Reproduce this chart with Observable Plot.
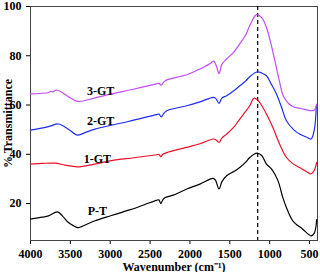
<!DOCTYPE html>
<html>
<head>
<meta charset="utf-8">
<script src="https://cdn.jsdelivr.net/npm/d3@7"></script>
<script src="https://cdn.jsdelivr.net/npm/@observablehq/plot@0.6"></script>
<style>
  html, body { margin: 0; padding: 0; background: #fff; }
  #chart { width: 320px; height: 272px; }
</style>
</head>
<body>
<div id="chart"></div>
<script>
// P-T (black)
const ptWave = [4000, 3850, 3775, 3660, 3600, 3525, 3450, 3410, 3300, 3190, 3050, 2925, 2800, 2690, 2550, 2420, 2390, 2365, 2340, 2315, 2210, 2040, 1875, 1710, 1680, 1635, 1600, 1540, 1450, 1375, 1300, 1250, 1160, 1100, 1040, 975, 895, 835, 790, 710, 585, 480, 440, 410];
const ptT    = [13.7, 14.5, 15.0, 16.6, 15.0, 12.3, 10.8, 10.2, 11.5, 13.0, 14.5, 15.7, 17.0, 18.1, 19.8, 21.3, 21.5, 20.0, 21.5, 22.4, 23.4, 25.9, 27.9, 30.2, 29.5, 25.9, 28.8, 31.3, 33.0, 34.6, 36.8, 38.7, 40.5, 39.5, 36.0, 34.0, 29.2, 22.4, 18.4, 13.0, 9.6, 6.9, 8.0, 13.5];
// 1-GT (red)
const gt1Wave = [4000, 3850, 3690, 3565, 3410, 3200, 2985, 2700, 2420, 2390, 2365, 2340, 2290, 2040, 1875, 1710, 1680, 1635, 1600, 1540, 1450, 1375, 1300, 1250, 1195, 1150, 1085, 1020, 960, 880, 790, 700, 625, 540, 480, 440, 410];
const gt1T    = [36.0, 36.3, 36.4, 35.6, 34.9, 36.0, 37.4, 38.6, 39.8, 40.0, 39.0, 40.0, 40.7, 42.8, 44.3, 46.2, 46.0, 44.8, 46.6, 48.2, 51.0, 54.3, 57.5, 59.7, 62.8, 62.0, 59.0, 55.0, 50.9, 44.5, 38.7, 36.0, 34.6, 33.0, 32.0, 33.5, 36.7];
// 2-GT (blue)
const gt2Wave = [4000, 3775, 3650, 3525, 3410, 3300, 3190, 2985, 2775, 2420, 2390, 2360, 2330, 2290, 2040, 1875, 1710, 1680, 1635, 1600, 1540, 1450, 1375, 1300, 1250, 1155, 1100, 1040, 980, 915, 850, 790, 700, 625, 540, 480, 440, 415];
const gt2T    = [49.8, 51.2, 52.3, 50.2, 47.8, 49.0, 50.2, 51.8, 53.3, 56.1, 56.3, 55.2, 56.5, 57.7, 59.7, 61.3, 63.1, 62.8, 60.7, 62.8, 63.8, 65.8, 67.8, 69.8, 71.5, 73.5, 73.0, 71.9, 68.5, 64.5, 59.0, 53.6, 50.0, 48.2, 47.0, 46.2, 50.0, 59.5];
// 3-GT (magenta)
const gt3Wave = [4000, 3775, 3740, 3720, 3670, 3600, 3525, 3410, 3200, 2985, 2700, 2420, 2390, 2360, 2330, 2290, 2040, 1875, 1740, 1700, 1665, 1635, 1600, 1540, 1450, 1375, 1300, 1250, 1165, 1100, 1040, 985, 935, 880, 830, 760, 705, 600, 480, 440, 410];
const gt3T    = [64.5, 65.1, 65.6, 65.3, 66.1, 65.0, 63.4, 61.5, 62.8, 64.5, 66.5, 68.6, 68.8, 68.1, 69.3, 70.2, 72.3, 74.6, 77.0, 77.8, 75.5, 72.8, 76.5, 78.7, 81.5, 84.8, 88.5, 92.2, 96.7, 95.5, 91.5, 85.0, 78.0, 70.0, 63.8, 60.5, 59.3, 58.5, 57.7, 58.0, 60.4];

const seriesNames = ["P-T", "1-GT", "2-GT", "3-GT"];
const seriesColors = ["#000000", "#e8102a", "#1f2cf0", "#c24cf5"];
const labelWave = [3160, 3160, 3120, 3120];
const labelT = [17.0, 38.2, 53.6, 65.8];
const dashWave = [1150];
const xTicks = [4000, 3500, 3000, 2500, 2000, 1500, 1000, 500];
const yTicks = [20, 40, 60, 80, 100];

const waves = [ptWave, gt1Wave, gt2Wave, gt3Wave];
const vals = [ptT, gt1T, gt2T, gt3T];
const rows = [];
seriesNames.forEach((s, i) => waves[i].forEach((w, j) => rows.push({series: s, wave: w, t: vals[i][j]})));
const labels = seriesNames.map((s, i) => ({series: s, wave: labelWave[i], t: labelT[i]}));

const font = "'Liberation Serif', 'Times New Roman', serif";

const chart = Plot.plot({
  width: 320,
  height: 272,
  marginLeft: 30,
  marginRight: 3,
  marginTop: 6,
  marginBottom: 32,
  style: {fontFamily: font, fontSize: "12px", fontWeight: "bold", color: "#000", background: "#fff"},
  x: {domain: [4000, 400], ticks: xTicks, tickFormat: "d", tickSize: 4, label: "Wavenumber (cm\u207B\u00B9)", labelAnchor: "center", labelOffset: 30, labelArrow: "none"},
  y: {domain: [5, 100], ticks: yTicks, tickFormat: "d", tickSize: 4, label: "% Transmittance", labelAnchor: "center", labelOffset: 27, labelArrow: "none"},
  color: {domain: seriesNames, range: seriesColors},
  marks: [
    Plot.frame({stroke: "#444"}),
    Plot.ruleX(dashWave, {stroke: "#000", strokeDasharray: "4,3", strokeWidth: 1.2}),
    Plot.line(rows, {x: "wave", y: "t", z: "series", stroke: "series", strokeWidth: 1.2, curve: "catmull-rom"}),
    Plot.text(labels, {x: "wave", y: "t", text: "series", fontSize: 12, fontWeight: "bold", fill: "#000"})
  ]
});
document.getElementById("chart").appendChild(chart);
</script>
</body>
</html>
